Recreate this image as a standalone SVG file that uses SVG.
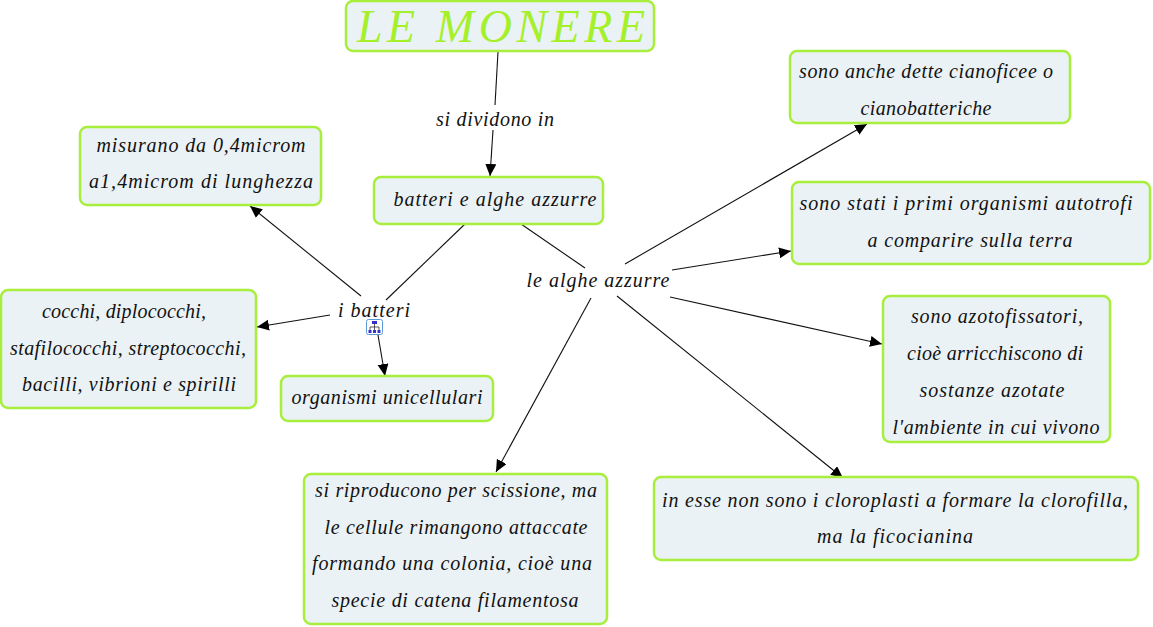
<svg xmlns="http://www.w3.org/2000/svg" width="1153" height="627" viewBox="0 0 1153 627">
<defs>
<marker id="arrow" markerUnits="userSpaceOnUse" markerWidth="13" markerHeight="12" refX="12" refY="5.500" orient="auto"><path d="M0 0L12 5.500L0 11Z" fill="#000"/></marker>
</defs>
<style>
.box{fill:#ebf2f5;stroke:#a8ee3c;stroke-width:2.500}
.t{font-family:"Liberation Serif",serif;font-style:italic;font-size:20px;fill:#111;text-anchor:middle}
.title{font-family:"Liberation Serif",serif;font-style:italic;font-size:46px;fill:#a4f02a;text-anchor:middle}
.c{fill:none;stroke:#111;stroke-width:1.100}
.a{marker-end:url(#arrow)}
</style>
<rect width="1153" height="627" fill="#fff"/>
<g id="connectors">
<path class="c" d="M498 52L495 105"/>
<path class="c a" d="M493 130L490 176"/>
<path class="c" d="M465 224L386 300"/>
<path class="c" d="M521 224L585 268"/>
<path class="c a" d="M361 296L250 206"/>
<path class="c a" d="M330 315L257 327"/>
<path class="c a" d="M378 335L385 376"/>
<path class="c a" d="M625 264L867 124"/>
<path class="c a" d="M672 270L791 251"/>
<path class="c a" d="M670 297L882 344"/>
<path class="c a" d="M617 296L843 478"/>
<path class="c a" d="M591 298L496 472"/>
</g>
<g id="n-title"><rect class="box" x="346" y="1" width="308" height="50" rx="7"/><text class="title" x="501" y="42" textLength="288" lengthAdjust="spacing">LE MONERE</text></g>
<g id="n-link1"><text class="t" x="495" y="126" textLength="118">si dividono in</text></g>
<g id="n-batteri-alghe"><rect class="box" x="374" y="177" width="229" height="47" rx="7"/><text class="t" x="495" y="206" textLength="203">batteri e alghe azzurre</text></g>
<g id="n-misurano"><rect class="box" x="80" y="127" width="241" height="78" rx="7"/><text class="t" x="201" y="152" textLength="209">misurano da 0,4microm</text><text class="t" x="201" y="188" textLength="224">a1,4microm di lunghezza</text></g>
<g id="n-cocchi"><rect class="box" x="1" y="290" width="255" height="118" rx="7"/><text class="t" x="124" y="318" textLength="164">cocchi, diplococchi,</text><text class="t" x="128" y="355" textLength="236">stafilococchi, streptococchi,</text><text class="t" x="129" y="391" textLength="214">bacilli, vibrioni e spirilli</text></g>
<g id="n-ibatteri"><text class="t" x="374" y="317" textLength="72">i batteri</text>
<g id="icon"><rect x="366.500" y="319.500" width="16" height="15" rx="2" fill="#fff" stroke="#5b9bd5"/><path d="M374.500 324V327M370 330V327H379V330M374.500 327V330" fill="none" stroke="#333" stroke-width=".8"/><path d="M372 321h5v3h-5zM368.500 330h3v3h-3zM373 330h3v3h-3zM377.500 330h3v3h-3z" fill="#33c"/></g></g>
<g id="n-organismi"><rect class="box" x="281" y="376" width="212" height="45" rx="7"/><text class="t" x="387" y="404" textLength="191">organismi unicellulari</text></g>
<g id="n-alghe"><text class="t" x="598" y="287" textLength="143">le alghe azzurre</text></g>
<g id="n-anche"><rect class="box" x="790" y="51" width="280" height="72" rx="7"/><text class="t" x="926" y="78" textLength="254">sono anche dette cianoficee o</text><text class="t" x="926" y="115" textLength="131">cianobatteriche</text></g>
<g id="n-stati"><rect class="box" x="792" y="182" width="358" height="82" rx="7"/><text class="t" x="966" y="210" textLength="333">sono stati i primi organismi autotrofi</text><text class="t" x="970" y="247" textLength="205">a comparire sulla terra</text></g>
<g id="n-azoto"><rect class="box" x="883" y="296" width="227" height="146" rx="7"/><text class="t" x="997" y="323" textLength="172">sono azotofissatori,</text><text class="t" x="995" y="360" textLength="176">cioè arricchiscono di</text><text class="t" x="992" y="397" textLength="145">sostanze azotate</text><text class="t" x="996" y="434" textLength="207">l'ambiente in cui vivono</text></g>
<g id="n-esse"><rect class="box" x="654" y="477" width="484" height="83" rx="7"/><text class="t" x="895" y="507" textLength="466">in esse non sono i cloroplasti a formare la clorofilla,</text><text class="t" x="895" y="543" textLength="156">ma la ficocianina</text></g>
<g id="n-ripro"><rect class="box" x="304" y="474" width="303" height="150" rx="7"/><text class="t" x="456" y="497" textLength="282">si riproducono per scissione, ma</text><text class="t" x="456" y="534" textLength="263">le cellule rimangono attaccate</text><text class="t" x="452" y="570" textLength="280">formando una colonia, cioè una</text><text class="t" x="455" y="607" textLength="247">specie di catena filamentosa</text></g>
</svg>
